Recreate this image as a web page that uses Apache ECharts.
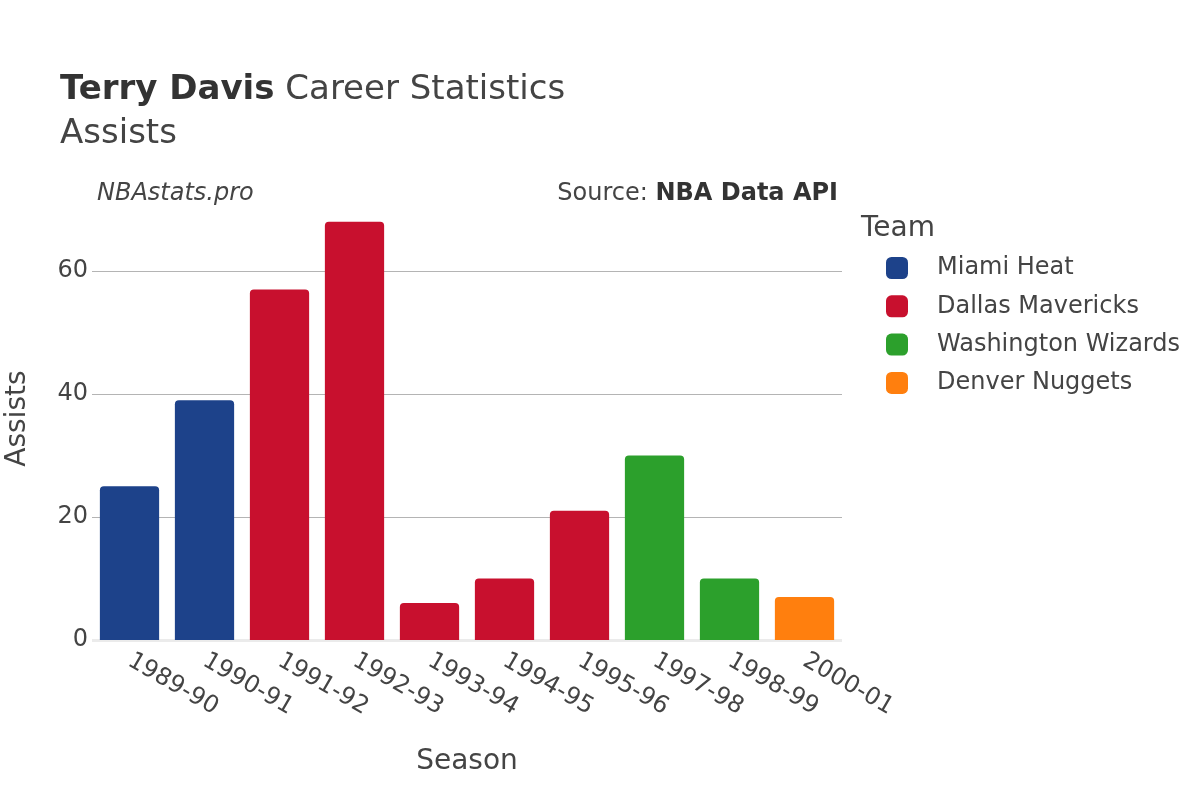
<!DOCTYPE html>
<html><head><meta charset="utf-8">
<script src="https://cdn.jsdelivr.net/npm/echarts@6/dist/echarts.min.js"></script>
<style>html,body{margin:0;padding:0;background:#fff}#c{width:1200px;height:800px}</style>
</head><body><div id="c"></div>
<script>
const seasons = ['1989-90','1990-91','1991-92','1992-93','1993-94','1994-95','1995-96','1997-98','1998-99','2000-01'];
const teamOfSeason = ['Miami Heat','Miami Heat','Dallas Mavericks','Dallas Mavericks','Dallas Mavericks','Dallas Mavericks','Dallas Mavericks','Washington Wizards','Washington Wizards','Denver Nuggets'];
const assists = [25, 39, 57, 68, 6, 10, 21, 30, 10, 7];
const teams = ['Miami Heat','Dallas Mavericks','Washington Wizards','Denver Nuggets'];
const teamColors = ['#1d428a','#c8102e','#2ca02c','#ff7f0e'];
const yTicks = [0, 20, 40, 60];

const font = 'DejaVu Sans';
const chart = echarts.init(document.getElementById('c'));
const series = teams.map((t, i) => ({
  name: t,
  type: 'bar',
  stack: 'all',
  barCategoryGap: '21%',
  itemStyle: { color: teamColors[i], borderRadius: [4,4,0,0] },
  data: assists.map((v, j) => teamOfSeason[j] === t ? v : null)
}));
chart.setOption({
  animation: false,
  textStyle: { fontFamily: font },
  grid: { left: 92, right: 358, top: 197.2, bottom: 160, containLabel: false, outerBoundsMode: 'none' },
  legend: {
    data: teams, orient: 'vertical', left: 881, top: 251,
    itemWidth: 22, itemHeight: 22, itemGap: 14.3, icon: 'roundRect',
    textStyle: { fontFamily: font, fontSize: 24, color: '#444', padding: [0,0,0,24] }
  },
  xAxis: {
    type: 'category', data: seasons,
    axisLine: { show: false }, axisTick: { show: false },
    axisLabel: { rotate: -30, fontSize: 24, color: '#444', margin: 19, interval: 0 },
    name: 'Season', nameLocation: 'middle', nameGap: 108,
    nameTextStyle: { fontSize: 28, color: '#444' }
  },
  yAxis: {
    type: 'value', min: 0, max: 72, interval: 20,
    axisLine: { show: false }, axisTick: { show: false },
    axisLabel: { fontSize: 24, color: '#444', margin: 4, showMaxLabel: false },
    splitLine: { lineStyle: { color: ['rgba(0,0,0,0)','#b4b4b4','#b4b4b4','#b4b4b4','rgba(0,0,0,0)'], width: 1 } },
    name: 'Assists', nameLocation: 'middle', nameGap: 60,
    nameTextStyle: { fontSize: 28, color: '#444' }
  },
  graphic: [
    { type: 'text', left: 60, top: 73, style: { rich: { b: { fontFamily: font, fontSize: 34, fontWeight: 'bold', fill: '#333' }, n: { fontFamily: font, fontSize: 34, fill: '#444' } }, text: '{b|Terry Davis}{n| Career Statistics}' } },
    { type: 'text', left: 60, top: 117, style: { text: 'Assists', fontFamily: font, fontSize: 34, fill: '#444' } },
    { type: 'text', left: 97, top: 182, style: { text: 'NBAstats.pro', fontFamily: font, fontSize: 24, fontStyle: 'italic', fill: '#444' } },
    { type: 'text', right: 362, top: 182, style: { rich: { n: { fontFamily: font, fontSize: 24, fill: '#444' }, b: { fontFamily: font, fontSize: 24, fontWeight: 'bold', fill: '#333' } }, text: '{n|Source: }{b|NBA Data API}' } },
    { type: 'text', left: 861, top: 215, style: { text: 'Team', fontFamily: font, fontSize: 28, fill: '#444' } },
    { type: 'rect', left: 92, top: 639, shape: { width: 750, height: 3 }, style: { fill: '#ebebeb' }, z: 1 }
  ],
  series: series
});
</script></body></html>
